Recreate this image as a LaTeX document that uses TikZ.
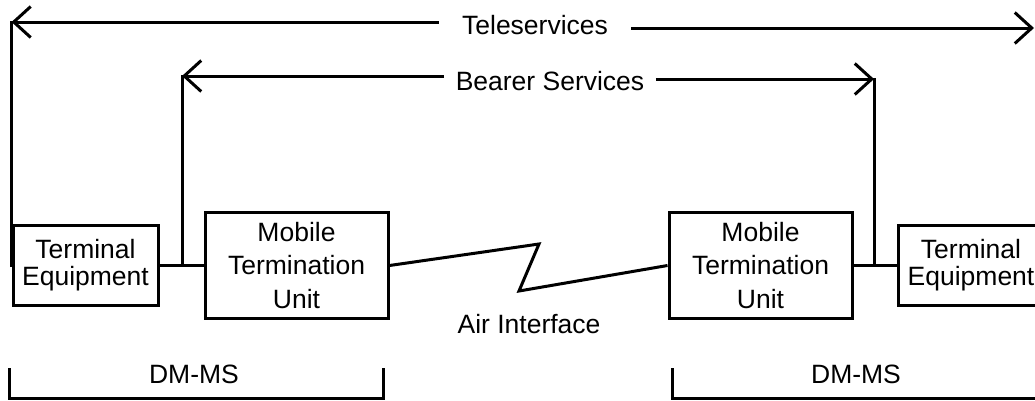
\documentclass[tikz,border=0pt]{standalone}
\usepackage{fontspec}
\setmainfont{Liberation Sans}
\usetikzlibrary{arrows.meta,positioning}

\begin{document}
\begin{tikzpicture}[x=1pt,y=-1pt,line width=3pt,on grid,
   unit/.style={draw,inner sep=0pt,minimum width=183pt,minimum height=106pt,align=center,font=\fontsize{26.5}{33.5}\selectfont},
   term/.style={draw,inner sep=0pt,minimum width=145pt,minimum height=80pt,align=center,font=\fontsize{26.5}{27}\selectfont},
   lbl/.style={anchor=base,inner sep=0pt,font=\fontsize{26.5}{30}\selectfont},
   barb/.style={-{Straight Barb[length=17pt,width=31pt]}}]
   \useasboundingbox (0,0) rectangle (1035,400);
   \node[term] (te_l) at (85.5,265.5) {Terminal\\Equipment};
   \node[unit] (mtu_l) [right=211pt of te_l] {Mobile\\Termination\\Unit};
   \node[unit] (mtu_r) at (760.5,265.5) {Mobile\\Termination\\Unit};
   \node[term] (te_r) [right=210.5pt of mtu_r] {Terminal\\Equipment};
   \coordinate (z_1) at (539,244);
   \coordinate (z_2) at (519,291);
   \coordinate (tl) at (12,22);
   \coordinate (tr) at (1034,28);
   \coordinate (bl) at (182,76);
   \coordinate (br) at (874,79);
   \node[lbl,inner xsep=22pt] (tele) at (535,34.5) {Teleservices};
   \node[lbl,inner xsep=10pt] (bearer) at (550,90) {Bearer Services};
   \node[lbl] (air) at (529,333) {Air Interface};
   \node[lbl] (dm_l) at (194,383) {DM-MS};
   \node[lbl] (dm_r) at (856,383) {DM-MS};
    \draw (te_l) -- (mtu_l);
    \draw (mtu_r) -- (te_r);
    \draw (mtu_l.east) -- (z_1) -- (z_2) -- (mtu_r.west);
    \draw[line cap=rect] (te_l.west) -- (te_l.west |- tl);
    \draw[barb] (tele.west |- tl) -- (te_l.west |- tl);
    \draw[barb] (tele.east |- tr) -- (tr);
    \draw[line cap=rect] (bl |- te_l) -- (bl);
    \draw[barb] (bearer.west |- bl) -- (bl);
    \draw[line cap=rect] (br |- mtu_r) -- (br);
    \draw[barb] (bearer.east |- br) -- (br);
    \draw (9,368) -- (9,398) -- (383,398) -- (383,368);
    \draw (672,368) -- (672,398) -- (1040,398);
\end{tikzpicture}
\end{document}
